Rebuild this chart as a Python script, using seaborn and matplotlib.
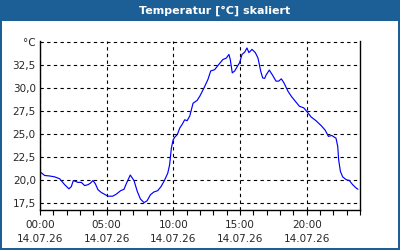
import numpy as np
import pandas as pd
import matplotlib
matplotlib.use("Agg")
import matplotlib.pyplot as plt
import seaborn as sns
from matplotlib.patches import Rectangle
from matplotlib.ticker import MultipleLocator

# hours since 00:00 on 14.07.26
hours = [0.05, 0.35, 0.7, 1.1, 1.47, 1.85, 2.17, 2.35, 2.5, 2.85, 3.1, 3.35, 3.6,
         3.77, 3.97, 4.15, 4.35, 4.6, 4.85, 5.1, 5.45, 5.7, 6.05, 6.3, 6.47, 6.77,
         7.05, 7.3, 7.53, 7.8, 8.03, 8.28, 8.53, 8.83, 9.08, 9.33, 9.58, 9.72, 9.85,
         9.98, 10.1, 10.3, 10.48, 10.65, 10.85, 11.03, 11.23, 11.48, 11.78, 11.98,
         12.3, 12.6, 12.8, 13.1, 13.4, 13.72, 13.97, 14.17, 14.27, 14.42, 14.6, 14.8,
         14.97, 15.15, 15.35, 15.52, 15.67, 15.9, 16.15, 16.35, 16.55, 16.7, 16.85,
         16.97, 17.2, 17.46, 17.7, 17.9, 18.1, 18.3, 18.6, 18.85, 19.1, 19.46, 19.78,
         20.04, 20.34, 20.7, 21.1, 21.4, 21.63, 21.88, 22.2, 22.33, 22.4, 22.53, 22.7,
         22.96, 23.2, 23.45, 23.7, 23.85]
temps = [20.8, 20.45, 20.4, 20.3, 20.1, 19.45, 19.0, 19.25, 19.9, 19.7, 19.7, 19.35,
         19.45, 19.6, 19.9, 19.55, 18.9, 18.6, 18.4, 18.2, 18.2, 18.4, 18.8, 18.95,
         19.55, 20.5, 19.9, 18.7, 17.9, 17.5, 17.7, 18.35, 18.65, 18.8, 19.25, 19.9,
         20.7, 21.6, 23.4, 24.3, 24.6, 24.9, 25.6, 25.97, 26.5, 26.4, 26.9, 28.3, 28.6,
         29.05, 29.96, 30.9, 31.8, 31.95, 32.5, 33.05, 33.2, 33.6, 33.05, 31.6, 31.8,
         32.3, 32.7, 33.6, 33.85, 34.3, 33.8, 34.15, 33.8, 33.2, 31.8, 31.05, 31.0,
         31.4, 31.9, 31.3, 30.7, 30.7, 30.95, 30.5, 29.6, 29.05, 28.6, 27.96, 27.8,
         27.35, 26.8, 26.4, 25.85, 25.35, 24.7, 24.8, 24.5, 23.6, 22.15, 20.9, 20.3,
         20.0, 19.9, 19.45, 19.1, 18.95]

x_ticks = [0, 5, 10, 15, 20]
x_labels = ["00:00\n14.07.26", "05:00\n14.07.26", "10:00\n14.07.26",
            "15:00\n14.07.26", "20:00\n14.07.26"]
y_ticks = [17.5, 20.0, 22.5, 25.0, 27.5, 30.0, 32.5, 35.0]
y_labels = ["17,5", "20,0", "22,5", "25,0", "27,5", "30,0", "32,5", "°C"]

df = pd.DataFrame({"hour": hours, "temp": temps})

sns.set_style("white")
plt.rcParams["font.family"] = ["DejaVu Sans"]

fig = plt.figure(figsize=(4, 2.5), dpi=100, facecolor="#1c5f96")
# white panel inside the blue frame
fig.patches.append(Rectangle((2 / 400, 2 / 250), 396 / 400, 227 / 250,
                             transform=fig.transFigure, facecolor="white",
                             edgecolor="none", zorder=-10))
fig.text(215 / 400, 1 - 10.5 / 250, "Temperatur [°C] skaliert", color="white",
         fontsize=8, fontweight="bold", ha="center", va="center")

ax = fig.add_axes([40 / 400, 1 - 210 / 250, 320 / 400, 169 / 250])
ax.set_zorder(5)
ax.set_facecolor("white")
sns.lineplot(data=df, x="hour", y="temp", ax=ax, color="#0000ff", linewidth=0.85)

ax.set_xlim(0, 24)
ax.set_ylim(16.7, 35.06)
ax.xaxis.set_minor_locator(MultipleLocator(1))
ax.set_xticks(x_ticks)
ax.set_xticklabels(x_labels, fontsize=7.5, linespacing=1.45)
ax.set_yticks(y_ticks)
ax.set_yticklabels(y_labels, fontsize=7.5)
ax.set_xlabel("")
ax.set_ylabel("")

ax.tick_params(axis="x", which="both", direction="out", length=3.5, width=0.8,
               color="black", pad=4, bottom=True)
ax.tick_params(axis="y", length=0, pad=3)

ax.grid(True, which="major", color="black", linestyle=(0, (3, 3)), linewidth=0.8)
for side in ["left", "right", "bottom"]:
    ax.spines[side].set_color("black")
    ax.spines[side].set_linewidth(1)
ax.spines["top"].set_visible(False)

fig.savefig("out.png", dpi=100, facecolor=fig.get_facecolor())
